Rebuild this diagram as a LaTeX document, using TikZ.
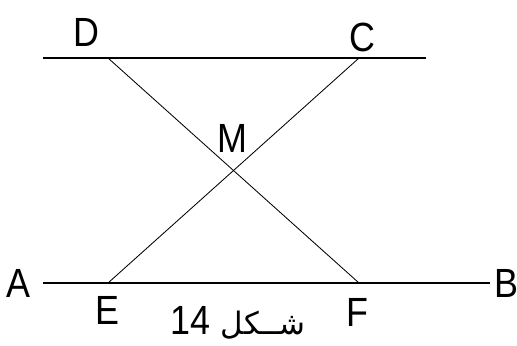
\documentclass[tikz,border=0pt]{standalone}
\usepackage{fontspec}
\setmainfont{Liberation Sans}[FakeStretch=0.88]
\newfontfamily\arabicfont[Script=Arabic]{DejaVu Sans}
\TeXXeTstate=1
\usetikzlibrary{calc}

\begin{document}
\begin{tikzpicture}[x=0.025cm, y=-0.025cm,
    baseline/.style={line width=1.1pt},
    crossline/.style={line width=0.6pt},
    lbl/.style={font=\fontsize{29}{31}\selectfont, inner sep=0pt},
]
\useasboundingbox (0,0) rectangle (517,345);

% Points
\coordinate (D) at (108,58);
\coordinate (C) at (359,58);
\coordinate (E) at (108,283);
\coordinate (F) at (359,283);
\coordinate (topL) at (43,58);
\coordinate (topR) at (426,58);
\coordinate (A) at (43,283);
\coordinate (B) at (490,283);

% --- Parallel lines
\draw[baseline] (topL) -- (topR);
\draw[baseline] (A) -- (B);

% --- Crossing segments
\draw[crossline] (D) -- (F);
\draw[crossline] (C) -- (E);
\coordinate (M) at ($(D)!0.5!(F)$);

% Labels
\node[lbl] (labD) at (86,32) {D};
\node[lbl] (labC) at (362,37) {C};
\node[lbl] (labM) at (232,138) {M};
\node[lbl] (labA) at (18,283) {A};
\node[lbl] (labB) at (506,283) {B};
\node[lbl] (labE) at (107,310) {E};
\node[lbl] (labF) at (357,312) {F};

% Caption
\node[lbl] (caption) at (238,323) {\arabicfont\fontsize{22}{26}\selectfont\beginR شــكل \beginL\fontsize{29}{31}\selectfont\rmfamily 14\endL\endR};

\end{tikzpicture}
\end{document}
